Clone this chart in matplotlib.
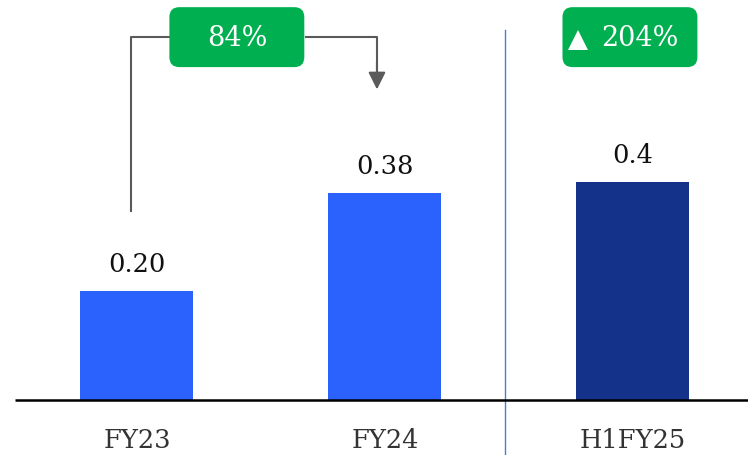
import matplotlib.pyplot as plt
from matplotlib.patches import FancyBboxPatch

# ---------- Data ----------
categories = ["FY23", "FY24", "H1FY25"]
values = [0.20, 0.38, 0.40]
value_labels = ["0.20", "0.38", "0.4"]
bar_colors = ["#2B62FE", "#2B62FE", "#15328A"]
growth_fy = "84%"
growth_h1 = "204%"

plt.rcParams['font.family'] = ['DejaVu Serif']

fig = plt.figure(figsize=(7.48, 4.56), dpi=100)
ax = fig.add_axes([0, 0, 1, 1])
ax.set_xlim(-0.552, 2.464)
ax.set_ylim(-0.101, 0.736)
ax.axis('off')

x = list(range(len(categories)))
ax.bar(x, values, width=0.456, color=bar_colors, zorder=2)

for xi, v, lab in zip(x, values, value_labels):
    ax.text(xi, v + 0.05, lab, ha='center', va='center', fontsize=18.5, color='#111111')

for xi, cat in zip(x, categories):
    ax.text(xi, -0.072, cat, ha='center', va='center', fontsize=18.5, color='#333333')

# baseline and divider
ax.plot([-0.49, 2.464], [0, 0], color='black', lw=1.8, zorder=3, solid_capstyle='butt')
ax.plot([1.484, 1.484], [-0.101, 0.68], color='#3F7FE6', lw=1.0, zorder=1)

# connector FY23 -> FY24
box_y = 0.666
ax.plot([-0.024, -0.024, 0.13], [values[0] + 0.147, box_y, box_y], color='#5A5A5A', lw=1.5)
ax.plot([0.68, 0.968, 0.968], [box_y, box_y, 0.6], color='#5A5A5A', lw=1.5)
ax.annotate('', xy=(0.968, values[1] + 0.19), xytext=(0.968, 0.62),
            arrowprops=dict(arrowstyle='-|>', color='#5A5A5A', lw=1.5,
                            mutation_scale=26, shrinkA=0, shrinkB=0))


def green_box(cx, cy):
    w, h = 0.544, 0.110
    r = 0.04
    box = FancyBboxPatch((cx - w / 2 + r, cy - h / 2 + r / 2.2),
                         w - 2 * r, h - 2 * r / 2.2,
                         boxstyle=f"round,pad={r},rounding_size={r}",
                         mutation_aspect=0.455,
                         facecolor='#00B050', edgecolor='none', zorder=4)
    ax.add_patch(box)


green_box(0.403, box_y)
ax.text(0.403, box_y, growth_fy, ha='center', va='center', fontsize=19.5,
        color='white', zorder=5)

green_box(1.988, box_y)
ax.plot([1.778], [box_y - 0.005], marker='^', markersize=15, color='white',
        markeredgewidth=0, zorder=5)
ax.text(2.03, box_y, growth_h1, ha='center', va='center', fontsize=19.5,
        color='white', zorder=5)

fig.savefig("out.png", dpi=100)
